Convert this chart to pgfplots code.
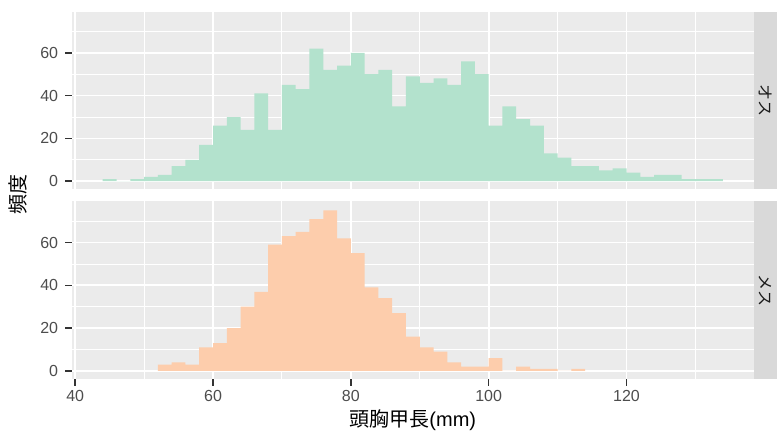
\documentclass[border=0pt]{standalone}
\usepackage{pgfplots}
\usepackage{pgfplotstable}
\pgfplotsset{compat=1.18}
\usepackage{fontspec}
\setmainfont{Liberation Sans}
\newfontfamily\cjk{Noto Sans CJK JP}
\definecolor{panelbg}{HTML}{EBEBEB}
\definecolor{stripbg}{HTML}{D9D9D9}
\definecolor{stripfg}{HTML}{1A1A1A}
\definecolor{ticklab}{HTML}{4D4D4D}
\definecolor{tickcol}{HTML}{333333}
\definecolor{male}{HTML}{B3E2CD}
\definecolor{female}{HTML}{FDCDAC}

% left bin edge, count (bin width 2 mm); last row closes the interval
\pgfplotstableread{
x   n
44  1
46  0
48  1
50  2
52  3
54  7
56  10
58  17
60  26
62  30
64  24
66  41
68  24
70  45
72  43
74  62
76  52
78  54
80  60
82  50
84  52
86  35
88  49
90  46
92  48
94  45
96  56
98  50
100 26
102 35
104 29
106 26
108 13
110 11
112 7
114 7
116 5
118 6
120 4
122 2
124 3
126 3
128 1
130 1
132 1
134 0
}\maletab

\pgfplotstableread{
x   n
52  3
54  4
56  3
58  11
60  13
62  20
64  30
66  37
68  59
70  63
72  65
74  71
76  75
78  62
80  55
82  39
84  34
86  27
88  16
90  11
92  9
94  4
96  2
98  2
100 6
102 0
104 2
106 1
108 1
110 0
112 1
114 0
}\femaletab

\pgfplotsset{
  set layers,
  facet/.style={
    scale only axis, width=511.7pt, height=133.2pt,
    xmin=39.5, xmax=138.5, ymin=-3.8, ymax=79.2,
    axis background/.style={fill=panelbg},
    axis line style={draw=none},
    xtick={40,60,80,100,120}, minor xtick={50,70,90,110,130},
    ytick={0,20,40,60}, minor ytick={10,30,50,70},
    grid=both,
    major grid style={white, line width=1.3pt},
    minor grid style={white, line width=0.65pt},
    tick align=outside, tick pos=left,
    major tick length=5pt, minor tick length=0pt,
    xminorticks=false, yminorticks=false,
    tick style={tickcol, line width=1.1pt},
    tick label style={font=\fontsize{12}{14}\selectfont, text=ticklab},
    /pgf/number format/assume math mode=true,
    yticklabel style={inner sep=0pt, anchor=east},
    xticklabel style={inner sep=0pt, anchor=north},
    yticklabel shift=5pt,
    xticklabel shift=3.6pt,
    clip=false,
  }
}

\begin{document}
\begin{tikzpicture}
\path (0,0) rectangle (582.75pt,-325.5pt);

\begin{axis}[facet, name=top, at={(53.8pt,-8.8pt)}, anchor=north west,
  xmajorticks=false, xticklabels={}]
  \addplot[ybar interval, fill=male, draw=none] table[x=x, y=n] {\maletab};
  \fill[stripbg] (rel axis cs:1,0) rectangle ([xshift=17.25pt]rel axis cs:1,1);
  \node[rotate=-90, font=\cjk\fontsize{12}{12}\selectfont, text=stripfg]
    at ([xshift=8.6pt]rel axis cs:1,0.5) {オス};
\end{axis}

\begin{axis}[facet, name=bot, at={(53.8pt,-151.1pt)}, anchor=north west]
  \addplot[ybar interval, fill=female, draw=none] table[x=x, y=n] {\femaletab};
  \fill[stripbg] (rel axis cs:1,0) rectangle ([xshift=17.25pt]rel axis cs:1,1);
  \node[rotate=-90, font=\cjk\fontsize{12}{12}\selectfont, text=stripfg]
    at ([xshift=8.6pt]rel axis cs:1,0.5) {メス};
\end{axis}

\node[rotate=90, font=\cjk\fontsize{15}{15}\selectfont] at (13.5pt,-146.25pt) {頻度};
\node[font=\fontsize{15}{15}\selectfont] at (309.6pt,-315.5pt) {{\cjk 頭胸甲長}(mm)};

\pgfresetboundingbox
\path[use as bounding box] (0,0) rectangle (582.75pt,-325.5pt);
\end{tikzpicture}
\end{document}
